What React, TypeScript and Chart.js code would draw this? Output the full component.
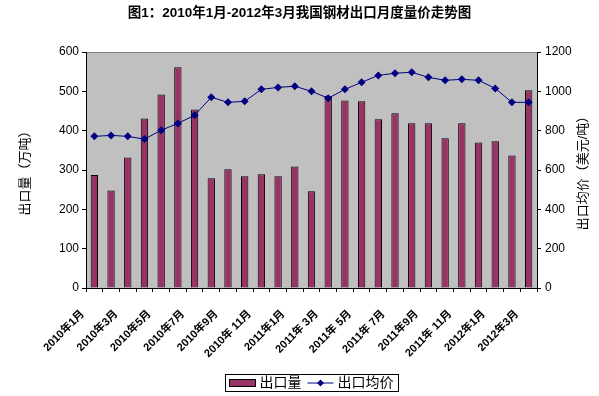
import React, { useEffect, useRef } from "react";
import { Chart, registerables } from "chart.js";

Chart.register(...registerables);

const categories = [
  "2010年1月", "2010年2月", "2010年3月", "2010年4月", "2010年5月", "2010年6月",
  "2010年7月", "2010年8月", "2010年9月", "2010年10月", "2010年 11月", "2010年12月",
  "2011年1月", "2011年2月", "2011年 3月", "2011年4月", "2011年 5月", "2011年6月",
  "2011年 7月", "2011年8月", "2011年9月", "2011年10月", "2011年 11月", "2011年12月",
  "2012年1月", "2012年2月", "2012年3月",
];
const exportVolume = [
  287, 248, 332, 431, 492, 561, 454, 279, 302, 284, 289, 284, 309, 246,
  489, 477, 475, 429, 444, 419, 419, 381, 419, 370, 373, 337, 503,
];
const exportPrice = [
  771, 776, 771, 757, 802, 837, 878, 970, 944, 949, 1010, 1020, 1026, 1000,
  965, 1010, 1046, 1081, 1092, 1097, 1071, 1056, 1061, 1056, 1015, 944, 944,
];
const leftTicks = [0, 100, 200, 300, 400, 500, 600];
const rightTicks = [0, 200, 400, 600, 800, 1000, 1200];

const titleText = "图1：2010年1月-2012年3月我国钢材出口月度量价走势图";
const leftTitle = "出口量（万吨）";
const rightTitle = "出口均价（美元/吨）";

const FONT = "'Liberation Sans', 'Noto Sans CJK SC', sans-serif";
const BAR = "#993366";
const LINE = "#000080";

const decorPlugin = {
  id: "decor",
  beforeDraw(chart: any) {
    const { ctx, chartArea: a } = chart;
    ctx.save();
    ctx.fillStyle = "#C0C0C0";
    ctx.fillRect(a.left, a.top, a.right - a.left, a.bottom - a.top);
    ctx.strokeStyle = "#808080";
    ctx.lineWidth = 1;
    ctx.beginPath();
    ctx.moveTo(a.left, a.top + 0.5);
    ctx.lineTo(a.right, a.top + 0.5);
    ctx.stroke();
    ctx.restore();
  },
  afterDraw(chart: any) {
    const { ctx, chartArea: a } = chart;
    ctx.save();
    ctx.fillStyle = "#000";
    ctx.font = `13px ${FONT}`;
    ctx.textAlign = "center";
    ctx.textBaseline = "middle";
    const cy = (a.top + a.bottom) / 2;
    ctx.save();
    ctx.translate(25, cy);
    ctx.rotate(-Math.PI / 2);
    ctx.fillText(leftTitle, 0, 0);
    ctx.restore();
    ctx.save();
    ctx.translate(583, cy);
    ctx.rotate(-Math.PI / 2);
    ctx.fillText(rightTitle, 0, 0);
    ctx.restore();

    const ds = chart.data.datasets;
    ctx.font = `14px ${FONT}`;
    const w1 = ctx.measureText(ds[0].label).width;
    const w2 = ctx.measureText(ds[1].label).width;
    const total = 4 + 26 + 4 + w1 + 6 + 26 + 4 + w2 + 5;
    const bx = Math.round(311 - total / 2) + 0.5;
    const by = 374.5;
    const bh = 17;
    ctx.strokeStyle = "#000";
    ctx.lineWidth = 1;
    ctx.strokeRect(bx, by, total, bh);
    let x = bx + 4;
    const my = by + bh / 2;
    ctx.fillStyle = BAR;
    ctx.fillRect(x, my - 3.5, 26, 7);
    ctx.strokeRect(x, my - 3.5, 26, 7);
    x += 30;
    ctx.fillStyle = "#000";
    ctx.textAlign = "left";
    ctx.fillText(ds[0].label, x, my + 0.5);
    x += w1 + 6;
    ctx.strokeStyle = LINE;
    ctx.beginPath();
    ctx.moveTo(x, my);
    ctx.lineTo(x + 26, my);
    ctx.stroke();
    ctx.fillStyle = LINE;
    ctx.beginPath();
    ctx.moveTo(x + 13, my - 3.5);
    ctx.lineTo(x + 16.5, my);
    ctx.lineTo(x + 13, my + 3.5);
    ctx.lineTo(x + 9.5, my);
    ctx.closePath();
    ctx.fill();
    x += 30;
    ctx.fillStyle = "#000";
    ctx.fillText(ds[1].label, x, my + 0.5);
    ctx.restore();
  },
};

export default function App() {
  const ref = useRef<HTMLCanvasElement>(null);
  useEffect(() => {
    document.body.style.margin = "0";
    const chart = new Chart(ref.current!, {
      type: "bar",
      data: {
        labels: categories,
        datasets: [
          {
            type: "bar",
            label: "出口量",
            data: exportVolume,
            backgroundColor: BAR,
            borderColor: "#000",
            borderWidth: 1,
            categoryPercentage: 1,
            barPercentage: 0.44,
            yAxisID: "y",
            order: 2,
          },
          {
            type: "line",
            label: "出口均价",
            data: exportPrice,
            borderColor: LINE,
            backgroundColor: LINE,
            borderWidth: 1,
            pointStyle: "rectRot",
            pointRadius: 4,
            pointBorderWidth: 0,
            tension: 0,
            yAxisID: "y1",
            order: 1,
          },
        ],
      },
      options: {
        animation: false,
        responsive: false,
        layout: { padding: 0 },
        plugins: {
          legend: { display: false },
          tooltip: { enabled: false },
          title: {
            display: true,
            text: titleText,
            color: "#000",
            font: { family: FONT, size: 13.5, weight: "bold", lineHeight: 1.2 },
            padding: { top: 5, bottom: 30.8 },
          },
        },
        scales: {
          x: {
            offset: true,
            grid: {
              offset: true,
              drawOnChartArea: false,
              tickLength: 4,
              color: "#000",
            },
            border: { color: "#000" },
            ticks: {
              autoSkip: false,
              maxRotation: 45,
              minRotation: 45,
              padding: 4,
              color: "#000",
              font: { family: FONT, size: 11, weight: "bold" },
              callback: (_v: any, i: number) =>
                i % 2 === 0 ? categories[i] + "\u2002\u2002\u2002" : "",
            },
            afterFit: (s: any) => {
              s.height = 108;
            },
          },
          y: {
            position: "left",
            min: 0,
            max: 600,
            afterBuildTicks: (s: any) => {
              s.ticks = leftTicks.map((v) => ({ value: v }));
            },
            grid: { drawOnChartArea: false, tickLength: 4, color: "#000" },
            border: { color: "#000" },
            ticks: {
              padding: 3,
              color: "#000",
              font: { family: FONT, size: 12 },
              callback: (v: any) => String(v),
            },
            afterFit: (s: any) => {
              s.width = 86;
            },
          },
          y1: {
            position: "right",
            min: 0,
            max: 1200,
            afterBuildTicks: (s: any) => {
              s.ticks = rightTicks.map((v) => ({ value: v }));
            },
            grid: { drawOnChartArea: false, tickLength: 4, color: "#000" },
            border: { color: "#000" },
            ticks: {
              padding: 4,
              color: "#000",
              font: { family: FONT, size: 12 },
              callback: (v: any) => String(v),
            },
            afterFit: (s: any) => {
              s.width = 62;
            },
          },
        },
      },
      plugins: [decorPlugin],
    });
    return () => chart.destroy();
  }, []);
  return (
    <div style={{ width: 599, height: 396, background: "#fff" }}>
      <canvas ref={ref} width={599} height={396} />
    </div>
  );
}
